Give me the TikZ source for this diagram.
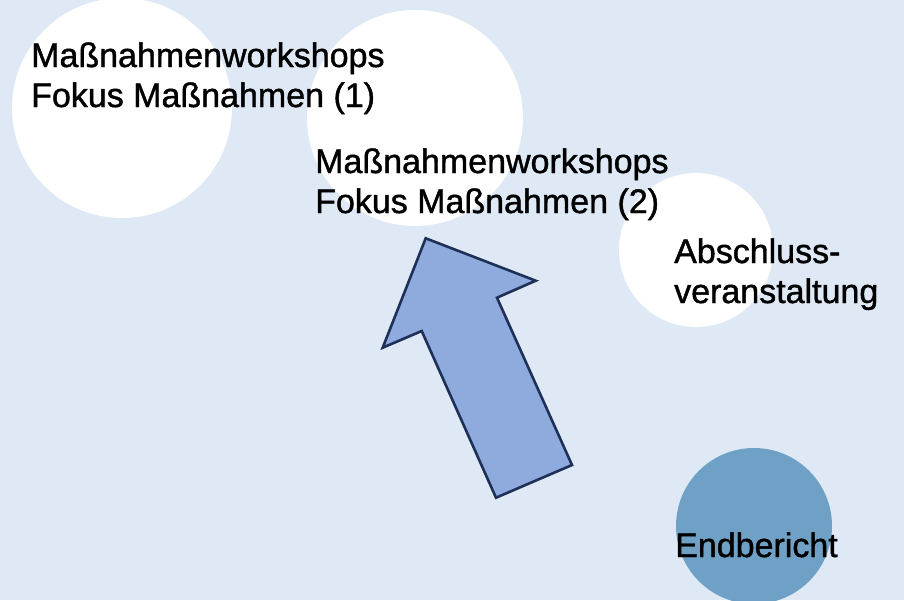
\documentclass[tikz,border=0pt]{standalone}
\usepackage{fontspec}
\setmainfont{Liberation Sans}
\newfontfamily\labelfont{Liberation Sans}[BoldFont={Liberation Sans}, BoldFeatures={FakeBold=1.2}]
\definecolor{paleblue}{RGB}{222, 233, 245}
\definecolor{arrowblue}{RGB}{143, 170, 220}
\definecolor{navyline}{RGB}{31, 48, 88}
\definecolor{reportblue}{RGB}{110, 161, 197}
\usepackage{tikz}
\usetikzlibrary{positioning}

\begin{document}
\begin{tikzpicture}[x=1pt, y=-1pt,
    phase/.style={circle, fill=white, inner sep=0pt},
    label/.style={font=\labelfont\bfseries\fontsize{34}{40}\selectfont, align=left, anchor=base west, inner sep=0pt}]
                    \fill[paleblue] (0, 0) rectangle (904, 600);
                    \useasboundingbox (0, 0) rectangle (904, 600);
                    % phases
                    \node[phase, minimum size=220pt] (ws1) at (122, 108) {};
                    \node[phase, minimum size=216pt] (ws2) at (415, 118) {};
                    \node[phase, minimum size=154pt] (final) at (696, 250) {};
                    \node[phase, fill=reportblue, minimum size=156pt] (report) at (754, 526) {};
                    % progress arrow
                    \draw[fill=arrowblue, draw=navyline, line width=2.6pt, line join=miter]
                        (425.7, 238.3) -- (535.7, 280.7) -- (497, 297.7) -- (572, 465)
                        -- (496, 497.7) -- (421.7, 331) -- (382.7, 347.7) -- cycle;
                    % labels (anchored at the last baseline)
                    \node[label] (ws1txt) at (31, 107) {Maßnahmenworkshops\\Fokus Maßnahmen (1)};
                    \node[label] (ws2txt) at (315, 213) {Maßnahmenworkshops\\Fokus Maßnahmen (2)};
                    \node[label] (finaltxt) at (674, 303) {Abschluss-\\veranstaltung};
                    \node[label] (reporttxt) at (675, 557) {Endbericht};
                \end{tikzpicture}
\end{document}
